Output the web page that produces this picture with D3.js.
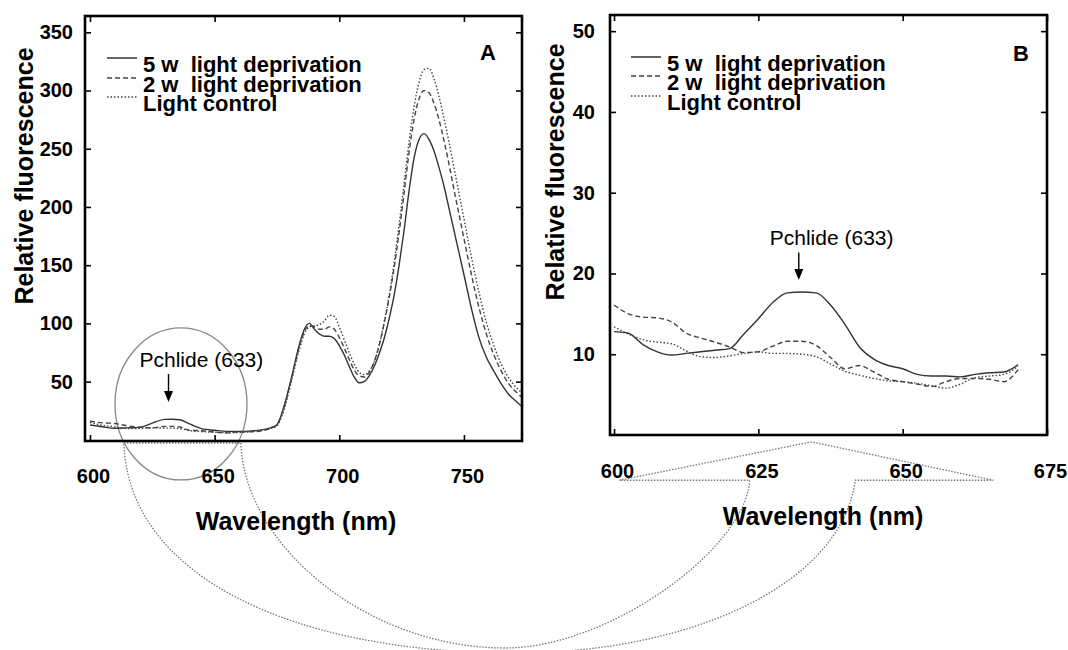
<!DOCTYPE html>
<html><head><meta charset="utf-8">
<script src="https://cdn.jsdelivr.net/npm/d3@7/dist/d3.min.js"></script>
<style>
html,body{margin:0;padding:0;background:#fff;}
text{font-family:"Liberation Sans",Arial,sans-serif;}
</style></head>
<body><svg id="c" width="1068" height="650"></svg>
<script>
// ---------- Data ----------
const seriesNames = ["5 w  light deprivation", "2 w  light deprivation", "Light control"];

// Panel A: full spectrum
const aWave = [600,605,610,615,620,625,630,633,636,640,645,650,655,660,665,669,672,675,678,681,
  684,686,688,690,692,694,696,698,700,702,704,706,708,710,712,714,716,718,720,722,
  724,726,728,730,732,734,736,738,740,742,744,746,748,750,753,756,759,762,765,768,771,773];
const aFive = [12.8,11.2,9.9,10.3,10.7,14.4,17.6,17.7,17.2,13.7,9.4,8.2,7.3,7.2,7.7,8.6,10,13,30,55,
  82,95,100,95,91,89,89,87,81,73,63,54,49,50,55,63,74,87,104,124,
  150,180,214,242,258,263,258,248,234,218,199,180,161,142,113,88,71,59,48,39,33,29];
const aTwo = [16,14.6,14,12,10.9,10.3,11.6,11.6,11,8.2,7.8,6.6,6.0,7.0,6.9,7.8,9.5,13,29,54,
  80,93,98,97,95,95,97,95,88,79,69,60,55,54,58,67,81,100,122,148,
  178,212,247,275,293,300,298,289,275,257,237,215,194,173,142,114,91,73,59,48,41,37];
const aCtrl = [15,12.4,11.3,9.7,9.8,10.3,10.1,10,9.6,7.9,7,6.6,6.1,6.3,7.3,8.4,9.5,12,27,52,
  78,91,97,98,99,102,107,106,97,86,75,65,58,56,59,67,81,101,124,152,
  185,220,256,286,307,318,319,310,295,276,256,234,212,190,157,127,101,81,65,53,45,41];

// Panel B: zoom 600-670 nm
const bWave = [600,602.5,605,607.5,610,612.5,615,617.5,620,622.5,625,627.5,630,632.5,635,637.5,
  640,642.5,645,647.5,650,652.5,655,657.5,660,662.5,665,667.5,670];
const bFive = [12.8,12.6,11.2,10.3,9.9,10.1,10.3,10.5,10.7,12.5,14.4,16.4,17.6,17.7,17.6,16.1,
  13.7,10.9,9.4,8.6,8.2,7.5,7.3,7.3,7.2,7.5,7.7,7.8,8.7];
const bTwo = [16.1,15.0,14.6,14.5,14.0,12.6,12.0,11.5,10.9,10.2,10.3,11.0,11.6,11.6,11.1,9.6,
  8.2,8.6,7.8,6.9,6.6,6.3,6.0,6.6,7.0,7.0,6.9,6.6,8.1];
const bCtrl = [13.4,12.5,11.8,11.5,11.3,10.4,9.7,9.6,9.8,10.1,10.3,10.1,10.1,10.0,9.7,8.8,
  7.9,7.4,7.0,6.7,6.6,6.4,6.1,5.8,6.3,7.1,7.3,7.5,8.5];

const aXTicks = [600,650,700,750];
const aYTicks = [50,100,150,200,250,300,350];
const bXTicks = [600,625,650,675];
const bYTicks = [10,20,30,40,50];
const annotText = "Pchlide (633)";

// ---------- Drawing ----------
const svg = d3.select("#c");
svg.append("rect").attr("width",1068).attr("height",650).attr("fill","#fff");
const FONT = '"Liberation Sans",Arial,sans-serif';
const styles = [
  {stroke:"#333", dash:null},
  {stroke:"#444", dash:"5,3"},
  {stroke:"#444", dash:"1.5,2"}
];

function panel(cfg){
  const {x, y, L, R, T, B} = cfg;
  const g = svg.append("g");
  const bottom = g.append("g").attr("transform",`translate(0,${B})`)
    .call(d3.axisBottom(x).tickValues(cfg.xTicks).tickSize(-6).tickPadding(cfg.xPad));
  bottom.selectAll("text").attr("dx", cfg.xdx);
  g.append("g").attr("transform",`translate(0,${T})`)
    .call(d3.axisTop(x).tickValues(cfg.xTicks).tickSize(-6).tickFormat(""));
  g.append("g").attr("transform",`translate(${L},0)`)
    .call(d3.axisLeft(y).tickValues(cfg.yTicks).tickSize(-6).tickPadding(cfg.yPad));
  g.append("g").attr("transform",`translate(${R},0)`)
    .call(d3.axisRight(y).tickValues(cfg.yTicks).tickSize(-6).tickFormat(""));
  g.selectAll(".domain").remove();
  g.selectAll(".tick line").attr("stroke","#000").attr("stroke-width",1.6);
  g.selectAll(".tick text").attr("font-family",FONT).attr("font-size",20)
    .attr("font-weight","bold").attr("fill","#000");

  const clip = "clip"+cfg.id;
  svg.append("clipPath").attr("id",clip).append("rect")
    .attr("x",L).attr("y",T).attr("width",R-L).attr("height",B-T);
  const line = d3.line().x(d=>x(d[0])).y(d=>y(d[1])).curve(d3.curveMonotoneX);
  cfg.series.forEach((vals,i)=>{
    const pts = cfg.wave.map((w,j)=>[w,vals[j]]);
    g.append("path").attr("d",line(pts)).attr("fill","none")
      .attr("stroke",styles[i].stroke).attr("stroke-width",1.4)
      .attr("stroke-dasharray",styles[i].dash).attr("clip-path",`url(#${clip})`);
  });

  g.append("rect").attr("x",L).attr("y",T).attr("width",R-L).attr("height",B-T)
    .attr("fill","none").attr("stroke","#000").attr("stroke-width",2.6);

  cfg.legY.forEach((ly,i)=>{
    g.append("line").attr("x1",cfg.legX).attr("x2",cfg.legX+30).attr("y1",ly).attr("y2",ly)
      .attr("stroke",styles[i].stroke).attr("stroke-width",1.5).attr("stroke-dasharray",styles[i].dash);
    g.append("text").attr("x",cfg.legX+36).attr("y",ly+14).attr("xml:space","preserve")
      .style("white-space","pre")
      .attr("font-family",FONT).attr("font-size",22).attr("font-weight","bold")
      .text(seriesNames[i]);
  });
  g.append("text").attr("x",cfg.letterX).attr("y",cfg.letterY).attr("font-family",FONT)
    .attr("font-size",22).attr("font-weight","bold").text(cfg.letter);

  g.append("text").attr("transform",`translate(${cfg.yTitleX},${cfg.yTitleY}) rotate(-90)`)
    .attr("text-anchor","middle").attr("dominant-baseline","central")
    .attr("font-family",FONT).attr("font-size",25).attr("font-weight","bold")
    .text("Relative fluorescence");
  g.append("text").attr("x",cfg.xTitleX).attr("y",cfg.xTitleY).attr("text-anchor","middle")
    .attr("font-family",FONT).attr("font-size",25).attr("font-weight","bold")
    .text("Wavelength (nm)");

  const ax = x(cfg.arrowX), ay0 = y(cfg.arrowTop), ay1 = y(cfg.arrowTip);
  g.append("text").attr("x",ax-29).attr("y",ay0-7).attr("font-family",FONT)
    .attr("font-size",21).text(annotText);
  g.append("line").attr("x1",ax).attr("x2",ax).attr("y1",ay0).attr("y2",ay1-9)
    .attr("stroke","#000").attr("stroke-width",1.4);
  g.append("path").attr("d",`M${ax-4.5},${ay1-11} L${ax+4.5},${ay1-11} L${ax},${ay1} Z`).attr("fill","#000");
  return g;
}

const xA = d3.scaleLinear().domain([598,773.3]).range([85,522]);
const yA = d3.scaleLinear().domain([-1,364]).range([441,16]);
const xB = d3.scaleLinear().domain([599.3,675]).range([610,1047]);
const yB = d3.scaleLinear().domain([0,52]).range([435,15]);

// connecting decoration (behind)
const deco = svg.append("g").attr("fill","none").attr("stroke","#777")
  .attr("stroke-width",1.3).attr("stroke-dasharray","1.5,1.5");
const tL = xA(613.6), tR = xA(660.5), tY = yA(-2.7);
const hY = yB(-5.6), tipY = yB(-0.85);
const h1 = xB(600.9), h2 = xB(623.5), hTip = xB(634.2), h3 = xB(641.8), h4 = xB(665.7);
deco.append("path").attr("d",
  `M${tL},${tY} H${tR} C${tR+4},548 370,648 505,648 C610,648 ${h2-4},548 ${h2},${hY} H${h1} L${hTip},${tipY} L${h4},${hY} H${h3} C${h3-14},585 690,653 515,653 C290,653 ${tL+4},575 ${tL},${tY}`);

svg.append("ellipse").attr("cx",xA(636.5)).attr("cy",yA(30.8)).attr("rx",66).attr("ry",76)
  .attr("fill","none").attr("stroke","#888").attr("stroke-width",1.3);

panel({id:"A", x:xA, y:yA, L:85, R:522, T:16, B:441,
  xTicks:aXTicks, yTicks:aYTicks, xPad:28, xdx:3, yPad:12,
  wave:aWave, series:[aFive,aTwo,aCtrl],
  legX:107, legY:[58,78,97], letter:"A", letterX:480, letterY:60,
  yTitleX:24, yTitleY:176, xTitleX:296, xTitleY:530,
  arrowX:631.5, arrowTop:56.5, arrowTip:32.5});

panel({id:"B", x:xB, y:yB, L:610, R:1047, T:15, B:435,
  xTicks:bXTicks, yTicks:bYTicks, xPad:29, xdx:3, yPad:15,
  wave:bWave, series:[bFive,bTwo,bCtrl],
  legX:631, legY:[57,76,96], letter:"B", letterX:1013, letterY:61,
  yTitleX:555, yTitleY:172, xTitleX:823, xTitleY:525,
  arrowX:632.0, arrowTop:22.6, arrowTip:19.2});
</script></body></html>
